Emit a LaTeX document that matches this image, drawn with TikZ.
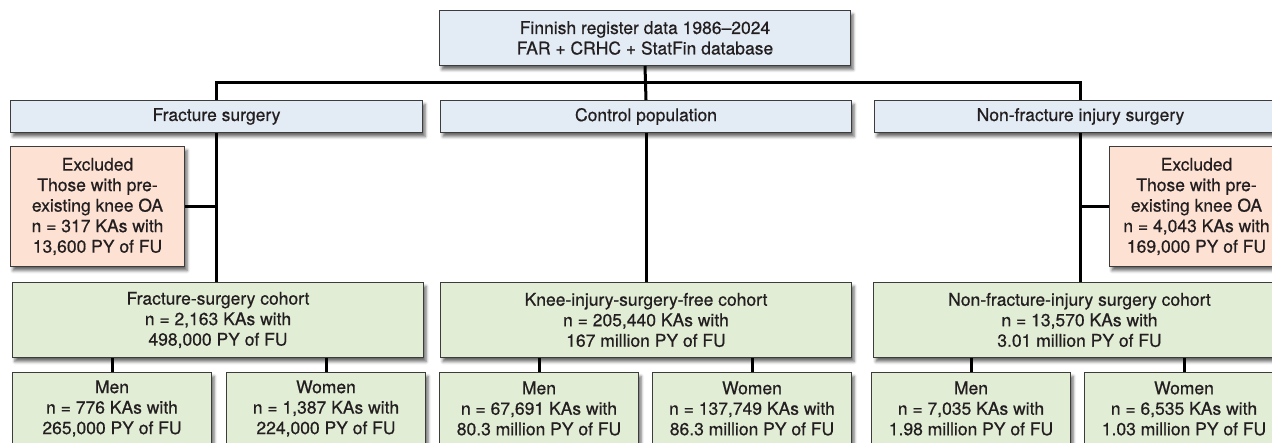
\documentclass[tikz,border=0pt]{standalone}
\usepackage{fontspec}
\setmainfont{TeX Gyre Heros}[BoldFont=TeX Gyre Heros, BoldFeatures={FakeBold=0.6}]
\usetikzlibrary{positioning, shadows.blur}
\definecolor{headblue}{HTML}{E3EBF5}
\definecolor{cohortgreen}{HTML}{E2EDD6}
\definecolor{exclpeach}{HTML}{FDE1D3}
\definecolor{boxline}{HTML}{3C3C3C}
\definecolor{textgray}{HTML}{231F20}

\begin{document}
\begin{tikzpicture}[
    x=1pt, y=-1pt,
    box/.style={draw=boxline, line width=1pt, text=textgray, align=center, inner sep=0pt,
        font=\fontsize{17.5}{20.5}\selectfont\bfseries, anchor=north west,
        blur shadow={shadow xshift=2.5pt, shadow yshift=-4pt, shadow blur radius=3pt, shadow opacity=60}},
    headbox/.style={box, fill=headblue},
    cohortbox/.style={box, fill=cohortgreen},
    exclbox/.style={box, fill=exclpeach},
    link/.style={line width=3pt, black}
]
\useasboundingbox (0,0) rectangle (1272,443);
\clip (0,0) rectangle (1272,443);

% Source data
\node[headbox, minimum width=411pt, minimum height=55pt] (regdata) at (439,10)
    {Finnish register data 1986--2024\\FAR + CRHC + StatFin database};

% Exposure groups
\node[headbox, minimum width=412pt, minimum height=32pt] (fracsurg) at (10,100) {Fracture surgery};
\node[headbox, minimum width=411pt, minimum height=32pt, right=17pt of fracsurg] (ctrlpop) {Control population};
\node[headbox, minimum width=412pt, minimum height=32pt, right=22pt of ctrlpop] (nonfrac) {Non-fracture injury surgery};

% Exclusions
\node[exclbox, minimum width=174pt, minimum height=120pt] (fracexcl) at (10,146)
    {Excluded\\Those with pre-\\existing knee OA\\n = 317 KAs with\\13,600 PY of FU};
\node[exclbox, minimum width=174pt, minimum height=120pt] (nonfracexcl) at (1109,146)
    {Excluded\\Those with pre-\\existing knee OA\\n = 4,043 KAs with\\169,000 PY of FU};

% Cohorts
\node[cohortbox, minimum width=411pt, minimum height=75pt] (fraccoh) at (12,282)
    {Fracture-surgery cohort\\n = 2,163 KAs with\\498,000 PY of FU};
\node[cohortbox, minimum width=411pt, minimum height=75pt, right=16pt of fraccoh] (ctrlcoh)
    {Knee-injury-surgery-free cohort\\n = 205,440 KAs with\\167 million PY of FU};
\node[cohortbox, minimum width=412pt, minimum height=75pt, right=21pt of ctrlcoh] (nonfraccoh)
    {Non-fracture-injury surgery cohort\\n = 13,570 KAs with\\3.01 million PY of FU};

% Men / women
\foreach \nm/\xpos/\txt in {
    fracmen/12/{Men\\n = 776 KAs with\\265,000 PY of FU},
    fracwomen/226/{Women\\n = 1,387 KAs with\\224,000 PY of FU},
    ctrlmen/439/{Men\\n = 67,691 KAs with\\80.3 million PY of FU},
    ctrlwomen/652/{Women\\n = 137,749 KAs with\\86.3 million PY of FU},
    nonfracmen/871/{Men\\n = 7,035 KAs with\\1.98 million PY of FU},
    nonfracwomen/1084/{Women\\n = 6,535 KAs with\\1.03 million PY of FU}} {
    \node[cohortbox, minimum width=199pt, minimum height=72pt] (\nm) at (\xpos,372) {\txt};
}

% Connectors
\coordinate (bus) at (0,83);
\draw[link] (regdata.south) -- (ctrlpop.north);
\draw[link] (fracsurg.north) |- (bus -| nonfrac.north) -- (nonfrac.north);
\draw[link] (fracsurg.south) -- (fracsurg.south |- fraccoh.north);
\draw[link] (ctrlpop.south) -- (ctrlpop.south |- ctrlcoh.north);
\draw[link] (nonfrac.south) -- (nonfrac.south |- nonfraccoh.north);
\draw[link] (fracexcl.east) -- (fracexcl.east -| fracsurg.south);
\draw[link] (nonfracexcl.west) -- (nonfracexcl.west -| nonfrac.south);
\foreach \co/\sub in {fraccoh/fracmen, fraccoh/fracwomen, ctrlcoh/ctrlmen,
    ctrlcoh/ctrlwomen, nonfraccoh/nonfracmen, nonfraccoh/nonfracwomen} {
    \draw[link] (\co.south -| \sub.north) -- (\sub.north);
}

\end{tikzpicture}
\end{document}
